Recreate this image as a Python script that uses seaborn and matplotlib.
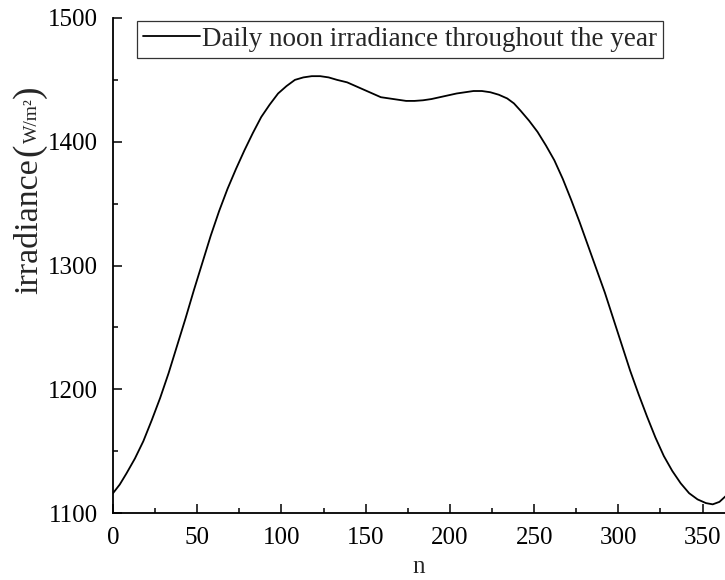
import matplotlib
matplotlib.use("Agg")
import matplotlib.pyplot as plt
from matplotlib.ticker import MultipleLocator
import seaborn as sns
import pandas as pd

# ---- data ----
day_n = [0, 4, 8, 13, 18, 23, 28, 33, 38, 43, 48, 53, 58, 63, 68, 73, 78, 83,
         88, 93, 98, 103, 108, 113, 118, 123, 128, 133, 139, 144, 149, 154,
         159, 164, 169, 174, 179, 184, 189, 194, 199, 204, 209, 214, 219, 224,
         229, 234, 238, 242, 247, 252, 257, 262, 267, 272, 277, 282, 287, 292,
         297, 302, 307, 312, 317, 322, 327, 332, 337, 342, 347, 352, 356, 360,
         364]
irradiance = [1116, 1123, 1132, 1144, 1158, 1175, 1193, 1213, 1235, 1257,
              1280, 1302, 1324, 1344, 1362, 1378, 1393, 1407, 1420, 1430,
              1439, 1445, 1450, 1452, 1453, 1453, 1452, 1450, 1448, 1445,
              1442, 1439, 1436, 1435, 1434, 1433, 1433, 1433.5, 1434.5, 1436,
              1437.5, 1439, 1440, 1441, 1441, 1440, 1438, 1435, 1431, 1425,
              1417, 1408, 1397, 1385, 1370, 1353, 1335, 1316, 1297, 1278,
              1257, 1236, 1215, 1196, 1178, 1161, 1146, 1134, 1124, 1116,
              1111, 1108, 1107, 1109, 1114]
series_label = "Daily noon irradiance throughout the year"
x_label = "n"
y_label_main = "irradiance"
y_label_unit = "W/m\u00b2"
x_ticks = [0, 50, 100, 150, 200, 250, 300, 350]
y_ticks = [1100, 1200, 1300, 1400, 1500]

df = pd.DataFrame({"n": day_n, "irr": irradiance})

sns.set_theme(style="ticks")
plt.rcParams["font.family"] = ["Liberation Serif", "DejaVu Serif"]

fig = plt.figure(figsize=(7.25, 5.8), dpi=100)
W, H = 725, 580
left, right, top, bottom = 113, 725, 18, 513
ax = fig.add_axes([left / W, (H - bottom) / H, (right - left) / W, (bottom - top) / H])

sns.lineplot(data=df, x="n", y="irr", color="black", linewidth=1.3,
             label=series_label, ax=ax, estimator=None, sort=False)

ax.set_xlim(0, 363.3)
ax.set_ylim(1100, 1500)
ax.set_xticks(x_ticks)
ax.set_yticks(y_ticks)
ax.xaxis.set_minor_locator(MultipleLocator(25))
ax.yaxis.set_minor_locator(MultipleLocator(50))

for s in ["top", "right"]:
    ax.spines[s].set_visible(False)
for s in ["left", "bottom"]:
    ax.spines[s].set_linewidth(1.3)
    ax.spines[s].set_color("black")

ax.tick_params(axis="both", which="major", direction="in", length=6.5, width=1.1,
               labelsize=18, colors="black", pad=10)
ax.tick_params(axis="both", which="minor", direction="in", length=3.3, width=1.1,
               colors="black")
ax.tick_params(axis="y", which="major", pad=11)

ax.set_xlabel(x_label, fontsize=18, labelpad=5)
ax.set_ylabel("")

leg = ax.legend(loc="upper left", bbox_to_anchor=(0.039, 0.994), fontsize=19.5,
                frameon=True, fancybox=False, shadow=False, handlelength=2.1,
                handletextpad=0.1, borderpad=0.22, borderaxespad=0)
leg.get_frame().set_edgecolor("black")
leg.get_frame().set_linewidth(0.9)

# y label composed of pieces (large "irradiance" and parentheses, smaller unit)
fig.canvas.draw()
r = fig.canvas.get_renderer()
xc = 29 / W
t1 = fig.text(xc, (H - 294) / H, y_label_main, rotation=90, fontsize=24.5,
              ha="center", va="bottom")
fig.canvas.draw()
bb = t1.get_window_extent(r)
t2 = fig.text(xc, (bb.y1 + 2) / H, "(", rotation=90, fontsize=27,
              ha="center", va="bottom")
fig.canvas.draw()
bb = t2.get_window_extent(r)
t3 = fig.text(xc + 3 / W, (bb.y1 + 0.5) / H, y_label_unit, rotation=90, fontsize=14,
              ha="center", va="bottom")
fig.canvas.draw()
bb = t3.get_window_extent(r)
t4 = fig.text(xc, (bb.y1 + 0.5) / H, ")", rotation=90, fontsize=27,
              ha="center", va="bottom")

fig.savefig("out.png", dpi=100)
